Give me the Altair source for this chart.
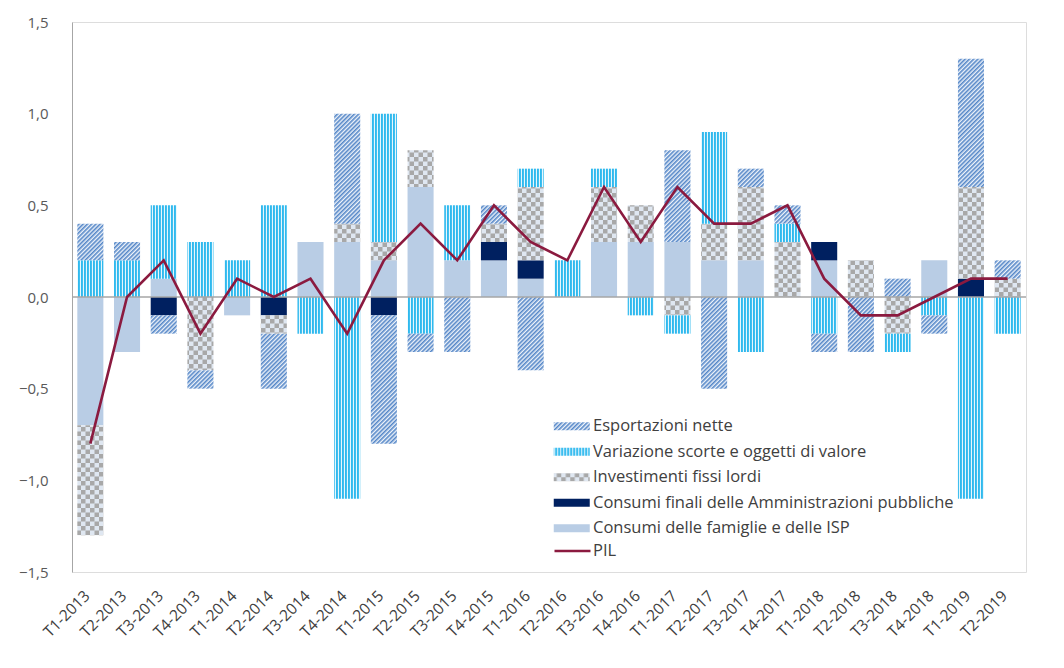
import altair as alt
import pandas as pd
import jinja2

categorie = ["T1-2013", "T2-2013", "T3-2013", "T4-2013", "T1-2014", "T2-2014", "T3-2014",
             "T4-2014", "T1-2015", "T2-2015", "T3-2015", "T4-2015", "T1-2016", "T2-2016",
             "T3-2016", "T4-2016", "T1-2017", "T2-2017", "T3-2017", "T4-2017", "T1-2018",
             "T2-2018", "T3-2018", "T4-2018", "T1-2019", "T2-2019"]

consumi_famiglie = [-0.7, -0.3, 0.1, 0, -0.1, 0, 0.3, 0.3, 0.2, 0.6, 0.2, 0.2, 0.1, 0,
                    0.3, 0.3, 0.3, 0.2, 0.2, 0, 0.2, 0, 0, 0.2, 0, 0]
consumi_pa = [0, 0, -0.1, 0, 0, -0.1, 0, 0, -0.1, 0, 0, 0.1, 0.1, 0,
              0, 0, 0, 0, 0, 0, 0.1, 0, 0, 0, 0.1, 0]
investimenti = [-0.6, 0, 0, -0.4, 0, -0.1, 0, 0.1, 0.1, 0.2, 0, 0.1, 0.4, 0,
                0.3, 0.2, -0.1, 0.2, 0.4, 0.3, 0, 0.2, -0.2, 0, 0.5, 0.1]
scorte = [0.2, 0.2, 0.4, 0.3, 0.2, 0.5, -0.2, -1.1, 0.7, -0.2, 0.3, 0, 0.1, 0.2,
          0.1, -0.1, -0.1, 0.5, -0.3, 0.1, -0.2, 0, -0.1, -0.1, -1.1, -0.2]
esportazioni = [0.2, 0.1, -0.1, -0.1, 0, -0.3, 0, 0.6, -0.7, -0.1, -0.3, 0.1, -0.4, 0,
                0, 0, 0.5, -0.5, 0.1, 0.1, -0.1, -0.3, 0.1, -0.1, 0.7, 0.1]
pil = [-0.8, 0.0, 0.2, -0.2, 0.1, 0.0, 0.1, -0.2, 0.2, 0.4, 0.2, 0.5, 0.3, 0.2,
       0.6, 0.3, 0.6, 0.4, 0.4, 0.5, 0.1, -0.1, -0.1, 0.0, 0.1, 0.1]

serie_barre_nomi = ["Esportazioni nette", "Variazione scorte e oggetti di valore",
                    "Investimenti fissi lordi", "Consumi finali delle Amministrazioni pubbliche",
                    "Consumi delle famiglie e delle ISP"]
colori_barre = ["url(#pHatch)", "url(#pStripe)", "url(#pCheck)", "#002060", "#b9cde5"]
serie_linea_nome = "PIL"
colore_linea = "#8b1a3f"

# stacking order from the zero line outward
serie_barre = [
    (serie_barre_nomi[4], consumi_famiglie, 0),
    (serie_barre_nomi[3], consumi_pa, 1),
    (serie_barre_nomi[2], investimenti, 2),
    (serie_barre_nomi[1], scorte, 3),
    (serie_barre_nomi[0], esportazioni, 4),
]

rows = []
for nome, valori, ordine in serie_barre:
    for cat, v in zip(categorie, valori):
        if v != 0:
            rows.append({"periodo": cat, "serie": nome, "valore": v, "ord": ordine})
df_bar = pd.DataFrame(rows)
df_pil = pd.DataFrame({"periodo": categorie, "serie": serie_linea_nome, "valore": pil})
df_zero = pd.DataFrame({"zero": [0]})

FONT = "Open Sans"

x_enc = alt.X(
    "periodo:N", sort=categorie, title=None,
    scale=alt.Scale(paddingInner=0.29, paddingOuter=0.145),
    axis=alt.Axis(labelAngle=-45, labelAlign="right", labelBaseline="middle",
                  labelPadding=21, labelOffset=-3, labelFontSize=15.5, labelColor="#404040",
                  labelFont=FONT, domain=False, ticks=False),
)
y_axis = alt.Axis(values=[-1.5, -1.0, -0.5, 0, 0.5, 1.0, 1.5],
                  labelExpr="replace(format(datum.value, '.1f'), '.', ',')",
                  labelFontSize=15, labelColor="#595959", labelFont=FONT,
                  labelPadding=24, ticks=False, tickSize=0, grid=False,
                  domainColor="#a6a6a6", domainWidth=1)
y_scale = alt.Scale(domain=[-1.5, 1.5], nice=False, zero=False)

legend_barre = alt.Legend(
    title=None, orient="none", legendX=481, legendY=396, padding=0,
    symbolType="M-1,-0.53H3.8V0.53H-1Z", symbolSize=225,
    symbolStrokeWidth=0, symbolOpacity=1,
    labelOffset=23.5, rowPadding=8.5, labelFontSize=16.5, labelFont=FONT,
    labelColor="#404040", labelLimit=0,
)
legend_linea = alt.Legend(
    title=None, orient="none", legendX=481, legendY=520, padding=0,
    symbolType="M-1,0H3.8", symbolSize=225, symbolStrokeWidth=2.6,
    symbolFillColor="transparent", symbolOpacity=1,
    labelOffset=22, labelFontSize=16.5, labelFont=FONT,
    labelColor="#404040", labelLimit=0,
)

bars = alt.Chart(df_bar).mark_bar().encode(
    x=x_enc,
    y=alt.Y("valore:Q", title=None, scale=y_scale, axis=y_axis, stack="zero"),
    color=alt.Color("serie:N", scale=alt.Scale(domain=serie_barre_nomi, range=colori_barre),
                    legend=legend_barre),
    order=alt.Order("ord:Q", sort="ascending"),
)

zero_rule = alt.Chart(df_zero).mark_rule(color="#a6a6a6", strokeWidth=1.3).encode(
    y=alt.Y("zero:Q", scale=y_scale, axis=y_axis, title=None)
)

line = alt.Chart(df_pil).mark_line(strokeWidth=2.6).encode(
    x=x_enc,
    y=alt.Y("valore:Q", title=None, scale=y_scale, axis=y_axis),
    stroke=alt.Stroke("serie:N", scale=alt.Scale(domain=[serie_linea_nome], range=[colore_linea]),
                      legend=legend_linea),
)

chart = alt.layer(bars, zero_rule, line).properties(
    width=954, height=550,
    autosize=alt.AutoSizeParams(type="none"),
    padding={"left": 64, "top": 14, "right": 20, "bottom": 80},
).configure_view(stroke=None).configure(background="white")

TEMPLATE = jinja2.Template("""<!DOCTYPE html>
<html>
<head>
  <meta charset="utf-8">
  <style>
    #{{ output_div }}.vega-embed { width: 100%; display: flex; }
  </style>
  <script type="text/javascript" src="{{ base_url }}/vega@{{ vega_version }}"></script>
  <script type="text/javascript" src="{{ base_url }}/vega-lite@{{ vegalite_version }}"></script>
  <script type="text/javascript" src="{{ base_url }}/vega-embed@{{ vegaembed_version }}"></script>
</head>
<body>
  <svg width="0" height="0" style="position:absolute">
    <defs>
      <pattern id="pHatch" patternUnits="userSpaceOnUse" width="3" height="3" patternTransform="rotate(45)">
        <rect width="3" height="3" fill="#eef3fa"/>
        <rect width="1.6" height="3" fill="#5587c8"/>
      </pattern>
      <pattern id="pStripe" patternUnits="userSpaceOnUse" width="3" height="3">
        <rect width="3" height="3" fill="#e6f6fd"/>
        <rect width="1.9" height="3" fill="#2fb9ee"/>
      </pattern>
      <pattern id="pCheck" patternUnits="userSpaceOnUse" width="9" height="9">
        <rect width="9" height="9" fill="#dfe7f1"/>
        <rect width="4.5" height="4.5" fill="#a8a8a8"/>
        <rect x="4.5" y="4.5" width="4.5" height="4.5" fill="#a8a8a8"/>
      </pattern>
    </defs>
  </svg>
  <div id="{{ output_div }}"></div>
  <script type="text/javascript">
    var spec = {{ spec }};
    var embedOpt = {{ embed_options }};
    vegaEmbed("#{{ output_div }}", spec, embedOpt).catch(console.error);
  </script>
</body>
</html>""")

chart.save("out.html", embed_options={"renderer": "svg", "actions": False}, template=TEMPLATE)
